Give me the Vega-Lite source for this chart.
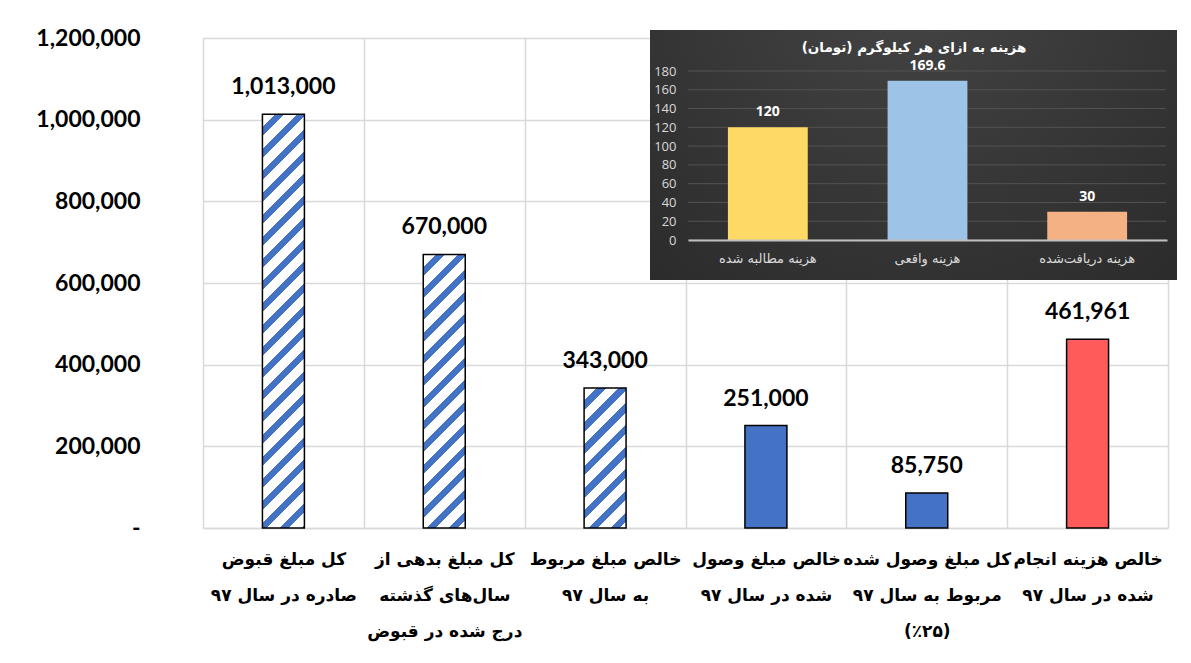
{
  "$schema": "https://vega.github.io/schema/vega-lite/v6.json",
  "width": 965,
  "height": 490,
  "autosize": {"type": "none"},
  "padding": {"left": 203, "top": 38, "right": 23, "bottom": 135},
  "background": "white",
  "config": {"view": {"stroke": null}},
  "layer": [
    {
      "data": {"values": [
        {"n": 1, "label": "کل مبلغ قبوض\nصادره در سال ۹۷", "value": 1013000},
        {"n": 2, "label": "کل مبلغ بدهی از\nسال\u200cهای گذشته\nدرج شده در قبوض", "value": 670000},
        {"n": 3, "label": "خالص مبلغ مربوط\nبه سال ۹۷", "value": 343000},
        {"n": 4, "label": "خالص مبلغ وصول\nشده در سال ۹۷", "value": 251000},
        {"n": 5, "label": "کل مبلغ وصول شده\nمربوط به سال ۹۷\n(٪۲۵)", "value": 85750},
        {"n": 6, "label": "خالص هزینه انجام\nشده در سال ۹۷", "value": 461961}
      ]},
      "layer": [
        {
          "mark": {"type": "bar", "stroke": "#000000", "strokeWidth": 1.5, "width": {"band": 0.261}},
          "encoding": {
            "x": {"field": "label", "type": "nominal", "sort": null,
              "scale": {"paddingInner": 0, "paddingOuter": 0},
              "axis": {"orient": "bottom", "title": null, "tickBand": "extent", "grid": true, "gridColor": "#d9d9d9", "gridWidth": 1.5,
                "ticks": false, "domain": true, "domainColor": "#d9d9d9", "domainWidth": 1.5, "labelAngle": 0,
                "labelExpr": "split(datum.label, '\\n')", "labelFont": "DejaVu Sans", "labelFontWeight": "bold", "labelFontSize": 17,
                "labelColor": "#000000", "labelLineHeight": 36, "labelPadding": 23, "labelBaseline": "top", "labelLimit": 0, "labelOverlap": false}},
            "y": {"field": "value", "type": "quantitative", "scale": {"domain": [0, 1200000]},
              "axis": {"orient": "left", "title": null, "values": [0, 200000, 400000, 600000, 800000, 1000000, 1200000],
                "labelExpr": "datum.value === 0 ? '-\u2007' : format(datum.value, ',')", "grid": true, "gridColor": "#d9d9d9", "gridWidth": 1.5,
                "domain": false, "ticks": false, "labelFont": "Lato", "labelFontWeight": "bold", "labelFontSize": 23, "labelColor": "#000000", "labelPadding": 63}},
            "fill": {
              "condition": [
                {"test": "datum.n == 1", "value": {"gradient": "linear", "x1": 0, "y1": 0, "x2": 0.1107, "y2": 1.0903, "stops": [
                  {"offset": 0, "color": "#ffffff"}, {"offset": 0.028, "color": "#ffffff"}, {"offset": 0.028, "color": "#4472c4"}, {"offset": 0.0483, "color": "#4472c4"},
                  {"offset": 0.0483, "color": "#ffffff"}, {"offset": 0.0763, "color": "#ffffff"}, {"offset": 0.0763, "color": "#4472c4"}, {"offset": 0.0966, "color": "#4472c4"},
                  {"offset": 0.0966, "color": "#ffffff"}, {"offset": 0.1246, "color": "#ffffff"}, {"offset": 0.1246, "color": "#4472c4"}, {"offset": 0.1449, "color": "#4472c4"},
                  {"offset": 0.1449, "color": "#ffffff"}, {"offset": 0.1729, "color": "#ffffff"}, {"offset": 0.1729, "color": "#4472c4"}, {"offset": 0.1932, "color": "#4472c4"},
                  {"offset": 0.1932, "color": "#ffffff"}, {"offset": 0.2212, "color": "#ffffff"}, {"offset": 0.2212, "color": "#4472c4"}, {"offset": 0.2415, "color": "#4472c4"},
                  {"offset": 0.2415, "color": "#ffffff"}, {"offset": 0.2695, "color": "#ffffff"}, {"offset": 0.2695, "color": "#4472c4"}, {"offset": 0.2897, "color": "#4472c4"},
                  {"offset": 0.2897, "color": "#ffffff"}, {"offset": 0.3177, "color": "#ffffff"}, {"offset": 0.3177, "color": "#4472c4"}, {"offset": 0.338, "color": "#4472c4"},
                  {"offset": 0.338, "color": "#ffffff"}, {"offset": 0.366, "color": "#ffffff"}, {"offset": 0.366, "color": "#4472c4"}, {"offset": 0.3863, "color": "#4472c4"},
                  {"offset": 0.3863, "color": "#ffffff"}, {"offset": 0.4143, "color": "#ffffff"}, {"offset": 0.4143, "color": "#4472c4"}, {"offset": 0.4346, "color": "#4472c4"},
                  {"offset": 0.4346, "color": "#ffffff"}, {"offset": 0.4626, "color": "#ffffff"}, {"offset": 0.4626, "color": "#4472c4"}, {"offset": 0.4829, "color": "#4472c4"},
                  {"offset": 0.4829, "color": "#ffffff"}, {"offset": 0.5109, "color": "#ffffff"}, {"offset": 0.5109, "color": "#4472c4"}, {"offset": 0.5312, "color": "#4472c4"},
                  {"offset": 0.5312, "color": "#ffffff"}, {"offset": 0.5592, "color": "#ffffff"}, {"offset": 0.5592, "color": "#4472c4"}, {"offset": 0.5795, "color": "#4472c4"},
                  {"offset": 0.5795, "color": "#ffffff"}, {"offset": 0.6075, "color": "#ffffff"}, {"offset": 0.6075, "color": "#4472c4"}, {"offset": 0.6278, "color": "#4472c4"},
                  {"offset": 0.6278, "color": "#ffffff"}, {"offset": 0.6558, "color": "#ffffff"}, {"offset": 0.6558, "color": "#4472c4"}, {"offset": 0.6761, "color": "#4472c4"},
                  {"offset": 0.6761, "color": "#ffffff"}, {"offset": 0.7041, "color": "#ffffff"}, {"offset": 0.7041, "color": "#4472c4"}, {"offset": 0.7244, "color": "#4472c4"},
                  {"offset": 0.7244, "color": "#ffffff"}, {"offset": 0.7524, "color": "#ffffff"}, {"offset": 0.7524, "color": "#4472c4"}, {"offset": 0.7726, "color": "#4472c4"},
                  {"offset": 0.7726, "color": "#ffffff"}, {"offset": 0.8006, "color": "#ffffff"}, {"offset": 0.8006, "color": "#4472c4"}, {"offset": 0.8209, "color": "#4472c4"},
                  {"offset": 0.8209, "color": "#ffffff"}, {"offset": 0.8489, "color": "#ffffff"}, {"offset": 0.8489, "color": "#4472c4"}, {"offset": 0.8692, "color": "#4472c4"},
                  {"offset": 0.8692, "color": "#ffffff"}, {"offset": 0.8972, "color": "#ffffff"}, {"offset": 0.8972, "color": "#4472c4"}, {"offset": 0.9175, "color": "#4472c4"},
                  {"offset": 0.9175, "color": "#ffffff"}, {"offset": 0.9455, "color": "#ffffff"}, {"offset": 0.9455, "color": "#4472c4"}, {"offset": 0.9658, "color": "#4472c4"},
                  {"offset": 0.9658, "color": "#ffffff"}, {"offset": 0.9938, "color": "#ffffff"}, {"offset": 0.9938, "color": "#4472c4"}, {"offset": 1, "color": "#4472c4"}
                ]}},
                {"test": "datum.n == 2", "value": {"gradient": "linear", "x1": 0, "y1": 0, "x2": 0.173, "y2": 1.127, "stops": [
                  {"offset": 0, "color": "#ffffff"}, {"offset": 0.0404, "color": "#ffffff"}, {"offset": 0.0404, "color": "#4472c4"}, {"offset": 0.0697, "color": "#4472c4"},
                  {"offset": 0.0697, "color": "#ffffff"}, {"offset": 0.1101, "color": "#ffffff"}, {"offset": 0.1101, "color": "#4472c4"}, {"offset": 0.1394, "color": "#4472c4"},
                  {"offset": 0.1394, "color": "#ffffff"}, {"offset": 0.1799, "color": "#ffffff"}, {"offset": 0.1799, "color": "#4472c4"}, {"offset": 0.2091, "color": "#4472c4"},
                  {"offset": 0.2091, "color": "#ffffff"}, {"offset": 0.2496, "color": "#ffffff"}, {"offset": 0.2496, "color": "#4472c4"}, {"offset": 0.2788, "color": "#4472c4"},
                  {"offset": 0.2788, "color": "#ffffff"}, {"offset": 0.3193, "color": "#ffffff"}, {"offset": 0.3193, "color": "#4472c4"}, {"offset": 0.3486, "color": "#4472c4"},
                  {"offset": 0.3486, "color": "#ffffff"}, {"offset": 0.389, "color": "#ffffff"}, {"offset": 0.389, "color": "#4472c4"}, {"offset": 0.4183, "color": "#4472c4"},
                  {"offset": 0.4183, "color": "#ffffff"}, {"offset": 0.4587, "color": "#ffffff"}, {"offset": 0.4587, "color": "#4472c4"}, {"offset": 0.488, "color": "#4472c4"},
                  {"offset": 0.488, "color": "#ffffff"}, {"offset": 0.5284, "color": "#ffffff"}, {"offset": 0.5284, "color": "#4472c4"}, {"offset": 0.5577, "color": "#4472c4"},
                  {"offset": 0.5577, "color": "#ffffff"}, {"offset": 0.5981, "color": "#ffffff"}, {"offset": 0.5981, "color": "#4472c4"}, {"offset": 0.6274, "color": "#4472c4"},
                  {"offset": 0.6274, "color": "#ffffff"}, {"offset": 0.6678, "color": "#ffffff"}, {"offset": 0.6678, "color": "#4472c4"}, {"offset": 0.6971, "color": "#4472c4"},
                  {"offset": 0.6971, "color": "#ffffff"}, {"offset": 0.7375, "color": "#ffffff"}, {"offset": 0.7375, "color": "#4472c4"}, {"offset": 0.7668, "color": "#4472c4"},
                  {"offset": 0.7668, "color": "#ffffff"}, {"offset": 0.8072, "color": "#ffffff"}, {"offset": 0.8072, "color": "#4472c4"}, {"offset": 0.8365, "color": "#4472c4"},
                  {"offset": 0.8365, "color": "#ffffff"}, {"offset": 0.877, "color": "#ffffff"}, {"offset": 0.877, "color": "#4472c4"}, {"offset": 0.9062, "color": "#4472c4"},
                  {"offset": 0.9062, "color": "#ffffff"}, {"offset": 0.9467, "color": "#ffffff"}, {"offset": 0.9467, "color": "#4472c4"}, {"offset": 0.9759, "color": "#4472c4"},
                  {"offset": 0.9759, "color": "#ffffff"}, {"offset": 1, "color": "#ffffff"}
                ]}},
                {"test": "datum.n == 3", "value": {"gradient": "linear", "x1": 0, "y1": 0, "x2": 0.3575, "y2": 1.1926, "stops": [
                  {"offset": 0, "color": "#ffffff"}, {"offset": 0.0701, "color": "#ffffff"}, {"offset": 0.0701, "color": "#4472c4"}, {"offset": 0.1208, "color": "#4472c4"},
                  {"offset": 0.1208, "color": "#ffffff"}, {"offset": 0.1909, "color": "#ffffff"}, {"offset": 0.1909, "color": "#4472c4"}, {"offset": 0.2416, "color": "#4472c4"},
                  {"offset": 0.2416, "color": "#ffffff"}, {"offset": 0.3117, "color": "#ffffff"}, {"offset": 0.3117, "color": "#4472c4"}, {"offset": 0.3624, "color": "#4472c4"},
                  {"offset": 0.3624, "color": "#ffffff"}, {"offset": 0.4325, "color": "#ffffff"}, {"offset": 0.4325, "color": "#4472c4"}, {"offset": 0.4832, "color": "#4472c4"},
                  {"offset": 0.4832, "color": "#ffffff"}, {"offset": 0.5533, "color": "#ffffff"}, {"offset": 0.5533, "color": "#4472c4"}, {"offset": 0.6041, "color": "#4472c4"},
                  {"offset": 0.6041, "color": "#ffffff"}, {"offset": 0.6741, "color": "#ffffff"}, {"offset": 0.6741, "color": "#4472c4"}, {"offset": 0.7249, "color": "#4472c4"},
                  {"offset": 0.7249, "color": "#ffffff"}, {"offset": 0.7949, "color": "#ffffff"}, {"offset": 0.7949, "color": "#4472c4"}, {"offset": 0.8457, "color": "#4472c4"},
                  {"offset": 0.8457, "color": "#ffffff"}, {"offset": 0.9158, "color": "#ffffff"}, {"offset": 0.9158, "color": "#4472c4"}, {"offset": 0.9665, "color": "#4472c4"},
                  {"offset": 0.9665, "color": "#ffffff"}, {"offset": 1, "color": "#ffffff"}
                ]}},
                {"test": "datum.n == 6", "value": "#ff5b5b"}
              ],
              "value": "#4472c4"
            }
          }
        },
        {
          "mark": {"type": "text", "font": "Lato", "fontWeight": "bold", "fontSize": 23, "baseline": "alphabetic", "dy": -20, "color": "#000000"},
          "encoding": {
            "x": {"field": "label", "type": "nominal", "sort": null},
            "y": {"field": "value", "type": "quantitative"},
            "text": {"field": "value", "type": "quantitative", "format": ","}
          }
        }
      ]
    },
    {
      "data": {"values": [{}]},
      "mark": {"type": "rect", "fill": {"gradient": "radial", "x1": 0.5, "y1": 0.15, "r1": 0, "x2": 0.5, "y2": 0.15, "r2": 0.9, "stops": [{"offset": 0, "color": "#454545"}, {"offset": 1, "color": "#272727"}]}},
      "encoding": {
        "x": {"datum": 0, "type": "quantitative", "scale": {"domain": [0, 1], "range": [447, 974]},
          "axis": {"orient": "top", "offset": -20, "title": "هزینه به ازای هر کیلوگرم (تومان)\u200f", "titleColor": "#ffffff", "titleFont": "DejaVu Sans", "titleFontWeight": "bold", "titleFontSize": 13.5, "titlePadding": 4, "labels": false, "ticks": false, "domain": false, "grid": false, "zindex": 1}},
        "x2": {"datum": 1},
        "y": {"datum": 0, "type": "quantitative", "scale": {"domain": [0, 1], "range": [242, -8]}, "axis": null},
        "y2": {"datum": 1}
      }
    },
    {
      "data": {"values": [{"t": 0}, {"t": 20}, {"t": 40}, {"t": 60}, {"t": 80}, {"t": 100}, {"t": 120}, {"t": 140}, {"t": 160}, {"t": 180}]},
      "mark": {"type": "rule", "color": "#525252", "strokeWidth": 1},
      "encoding": {
        "y": {"field": "t", "type": "quantitative", "scale": {"domain": [0, 180], "range": [202, 33]}, "axis": null},
        "x": {"datum": 0, "type": "quantitative", "scale": {"domain": [0, 1], "range": [485, 963]}, "axis": null},
        "x2": {"datum": 1}
      }
    },
    {
      "data": {"values": [
        {"k": "هزینه مطالبه شده", "v": 120},
        {"k": "هزینه واقعی", "v": 169.6},
        {"k": "هزینه دریافت\u200cشده", "v": 30}
      ]},
      "layer": [
        {
          "mark": {"type": "bar", "width": {"band": 0.5}},
          "encoding": {
            "x": {"field": "k", "type": "nominal", "sort": null, "scale": {"range": [485, 964], "paddingInner": 0, "paddingOuter": 0},
              "axis": {"orient": "bottom", "offset": -288, "title": null, "ticks": false, "grid": false, "domain": true, "domainColor": "#bfbfbf", "domainWidth": 2,
                "labelAngle": 0, "labelPadding": 12, "labelColor": "#d9d9d9", "labelFont": "DejaVu Sans", "labelFontSize": 13, "labelBaseline": "top", "labelOverlap": false, "labelLimit": 0, "zindex": 1}},
            "y": {"field": "v", "type": "quantitative", "stack": null, "scale": {"domain": [0, 180], "range": [202, 33]},
              "axis": {"orient": "left", "offset": -485, "title": null, "values": [0, 20, 40, 60, 80, 100, 120, 140, 160, 180], "grid": false, "domain": false, "ticks": false,
                "labelPadding": 12, "labelColor": "#d9d9d9", "labelFont": "Open Sans", "labelFontSize": 13, "zindex": 1}},
            "color": {"field": "k", "type": "nominal", "sort": null, "scale": {"domain": ["هزینه مطالبه شده", "هزینه واقعی", "هزینه دریافت\u200cشده"], "range": ["#ffd966", "#9dc3e6", "#f4b183"]}, "legend": null}
          }
        },
        {
          "mark": {"type": "text", "font": "Open Sans", "fontWeight": "bold", "fontSize": 14, "color": "#ffffff", "baseline": "alphabetic", "dy": -11},
          "encoding": {
            "x": {"field": "k", "type": "nominal", "sort": null},
            "y": {"field": "v", "type": "quantitative"},
            "text": {"field": "v", "type": "quantitative", "format": ".1~f"}
          }
        }
      ]
    }
  ],
  "resolve": {"scale": {"x": "independent", "y": "independent"}}
}
